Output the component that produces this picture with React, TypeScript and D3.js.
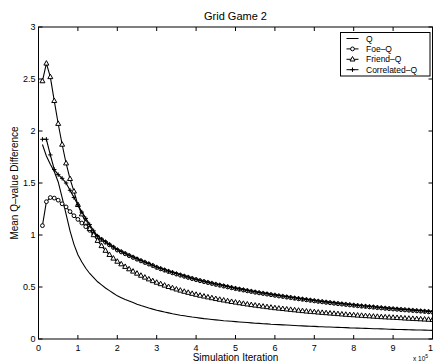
import React from "react";
import * as d3 from "d3";

// simulation iterations, in units of 10^5
const iterations = d3.range(1, 101).map((i) => i / 10);

const qValues = [
  1.87, 1.76, 1.68, 1.61, 1.51, 1.36, 1.2, 1.04, 0.91, 0.81,
  0.74, 0.68, 0.63, 0.59, 0.55, 0.52, 0.49, 0.465, 0.44, 0.415,
  0.397, 0.38, 0.366, 0.352, 0.335, 0.322, 0.31, 0.298, 0.287, 0.277,
  0.268, 0.259, 0.251, 0.243, 0.236, 0.229, 0.223, 0.217, 0.211, 0.206,
  0.201, 0.196, 0.192, 0.188, 0.184, 0.18, 0.176, 0.173, 0.17, 0.167,
  0.164, 0.161, 0.158, 0.155, 0.152, 0.15, 0.147, 0.145, 0.142, 0.14,
  0.138, 0.136, 0.134, 0.132, 0.13, 0.128, 0.126, 0.124, 0.122, 0.121,
  0.119, 0.118, 0.116, 0.115, 0.113, 0.112, 0.11, 0.109, 0.107, 0.106,
  0.105, 0.103, 0.102, 0.101, 0.099, 0.098, 0.097, 0.096, 0.094, 0.093,
  0.092, 0.091, 0.09, 0.089, 0.088, 0.087, 0.086, 0.085, 0.084, 0.083,
];

const foeValues = [
  1.09, 1.32, 1.36, 1.355, 1.335, 1.3, 1.27, 1.225, 1.185, 1.15,
  1.115, 1.08, 1.045, 1.01, 0.98, 0.955, 0.93, 0.905, 0.88, 0.855,
  0.837, 0.819, 0.801, 0.784, 0.767, 0.751, 0.735, 0.72, 0.705, 0.687,
  0.674, 0.661, 0.648, 0.636, 0.624, 0.613, 0.602, 0.591, 0.58, 0.57,
  0.56, 0.551, 0.542, 0.533, 0.524, 0.516, 0.508, 0.5, 0.492, 0.484,
  0.477, 0.47, 0.463, 0.456, 0.449, 0.443, 0.437, 0.431, 0.425, 0.419,
  0.413, 0.408, 0.402, 0.397, 0.391, 0.386, 0.381, 0.376, 0.371, 0.366,
  0.361, 0.357, 0.352, 0.348, 0.343, 0.339, 0.335, 0.331, 0.327, 0.323,
  0.319, 0.315, 0.312, 0.308, 0.305, 0.301, 0.298, 0.294, 0.291, 0.288,
  0.285, 0.282, 0.279, 0.276, 0.273, 0.27, 0.267, 0.264, 0.261, 0.258,
];

const friendValues = [
  2.48, 2.65, 2.52, 2.29, 2.07, 1.87, 1.69, 1.54, 1.42, 1.29,
  1.2, 1.12, 1.06, 1.0, 0.945, 0.895, 0.85, 0.81, 0.775, 0.745,
  0.72, 0.695, 0.672, 0.65, 0.63, 0.61, 0.592, 0.575, 0.558, 0.543,
  0.529, 0.515, 0.502, 0.49, 0.478, 0.467, 0.456, 0.446, 0.436, 0.427,
  0.418, 0.41, 0.402, 0.394, 0.386, 0.379, 0.372, 0.365, 0.358, 0.352,
  0.346, 0.34, 0.334, 0.328, 0.323, 0.318, 0.313, 0.308, 0.303, 0.298,
  0.294, 0.29, 0.286, 0.282, 0.278, 0.274, 0.27, 0.266, 0.263, 0.26,
  0.256, 0.253, 0.25, 0.247, 0.244, 0.241, 0.238, 0.235, 0.232, 0.23,
  0.227, 0.225, 0.222, 0.22, 0.217, 0.215, 0.212, 0.21, 0.208, 0.206,
  0.204, 0.202, 0.199, 0.197, 0.195, 0.193, 0.191, 0.189, 0.187, 0.185,
];

const correlatedValues = [
  1.92, 1.92, 1.77, 1.63, 1.58, 1.545, 1.5, 1.43, 1.36, 1.29,
  1.22, 1.16, 1.1, 1.04, 0.99, 0.96, 0.935, 0.91, 0.885, 0.86,
  0.842, 0.824, 0.806, 0.789, 0.772, 0.756, 0.74, 0.725, 0.71, 0.692,
  0.679, 0.666, 0.653, 0.641, 0.629, 0.618, 0.607, 0.596, 0.585, 0.575,
  0.565, 0.556, 0.547, 0.538, 0.529, 0.521, 0.513, 0.505, 0.497, 0.489,
  0.482, 0.475, 0.468, 0.461, 0.454, 0.448, 0.442, 0.436, 0.43, 0.424,
  0.418, 0.413, 0.407, 0.402, 0.396, 0.391, 0.386, 0.381, 0.376, 0.371,
  0.366, 0.362, 0.357, 0.353, 0.348, 0.344, 0.34, 0.336, 0.332, 0.328,
  0.324, 0.32, 0.317, 0.313, 0.31, 0.306, 0.303, 0.299, 0.296, 0.293,
  0.29, 0.287, 0.284, 0.281, 0.278, 0.275, 0.272, 0.269, 0.266, 0.263,
];

const xTicks = [0, 1, 2, 3, 4, 5, 6, 7, 8, 9, 10];
const yTicks = [0, 0.5, 1, 1.5, 2, 2.5, 3];
const legendLabels = ["Q", "Foe\u2013Q", "Friend\u2013Q", "Correlated\u2013Q"];

const W = 433, H = 364;
const margin = { top: 27, right: 0.5, bottom: 25, left: 38.5 };
const font = "Liberation Sans, Arial, Helvetica, sans-serif";

type Marker = "none" | "circle" | "triangle" | "plus";

function drawMarker(kind: Marker, cx: number, cy: number, key: string | number) {
  if (kind === "circle")
    return <circle key={key} cx={cx} cy={cy} r={1.9} fill="white" stroke="black" strokeWidth={1} />;
  if (kind === "triangle")
    return (
      <path key={key} d={`M${cx},${cy - 2.8}L${cx + 2.5},${cy + 1.7}L${cx - 2.5},${cy + 1.7}Z`}
        fill="white" stroke="black" strokeWidth={1} />
    );
  if (kind === "plus")
    return (
      <path key={key} d={`M${cx - 2.2},${cy}H${cx + 2.2}M${cx},${cy - 2.2}V${cy + 2.2}`} stroke="black" strokeWidth={1} />
    );
  return null;
}

export default function App() {
  const innerW = W - margin.left - margin.right;
  const innerH = H - margin.top - margin.bottom;

  const x = d3.scaleLinear().domain([0, 10]).range([margin.left, margin.left + innerW]);
  const y = d3.scaleLinear().domain([0, 3]).range([margin.top + innerH, margin.top]);

  const series: { name: string; values: number[]; marker: Marker }[] = [
    { name: legendLabels[0], values: qValues, marker: "none" },
    { name: legendLabels[1], values: foeValues, marker: "circle" },
    { name: legendLabels[2], values: friendValues, marker: "triangle" },
    { name: legendLabels[3], values: correlatedValues, marker: "plus" },
  ];

  const line = d3.line<number>()
    .x((_, i) => x(iterations[i]))
    .y((d) => y(d));

  const x0 = x(0), x1 = x(10), y0 = y(0), y1 = y(3);
  const tick = 4;

  // legend box
  const lg = { x: 340.5, y: 32.5, w: 89.5, h: 43.5 };

  return (
    <svg width={W} height={H} style={{ position: "absolute", left: 0, top: 0, background: "white" }}
      fontFamily={font}>
      <defs>
        <clipPath id="plot">
          <rect x={x0} y={y1} width={x1 - x0} height={y0 - y1} />
        </clipPath>
      </defs>
      <rect width={W} height={H} fill="white" />

      <text x={(x0 + x1) / 2} y={20} textAnchor="middle" fontSize={11}>Grid Game 2</text>

      {/* series */}
      <g clipPath="url(#plot)">
        {series.map((s) => (
          <g key={s.name}>
            <path d={line(s.values) ?? ""} fill="none" stroke="black" strokeWidth={1.1} />
            {s.marker !== "none" &&
              s.values.map((v, i) => drawMarker(s.marker, x(iterations[i]), y(v), i))}
          </g>
        ))}
      </g>

      {/* axes box */}
      <rect x={x0} y={y1} width={x1 - x0} height={y0 - y1} fill="none" stroke="black" strokeWidth={1} />

      {xTicks.map((t) => (
        <g key={"x" + t}>
          <line x1={x(t)} x2={x(t)} y1={y0} y2={y0 - tick} stroke="black" />
          <line x1={x(t)} x2={x(t)} y1={y1} y2={y1 + tick} stroke="black" />
          <text x={t === 10 ? x(t) - 2 : x(t)} y={351} textAnchor="middle" fontSize={9}>{t === 10 ? "1" : t}</text>
        </g>
      ))}
      {yTicks.map((t) => (
        <g key={"y" + t}>
          <line x1={x0} x2={x0 + tick} y1={y(t)} y2={y(t)} stroke="black" />
          <line x1={x1} x2={x1 - tick} y1={y(t)} y2={y(t)} stroke="black" />
          <text x={x0 - 3} y={y(t) + 3} textAnchor="end" fontSize={9}>{t}</text>
        </g>
      ))}

      <text x={(x0 + x1) / 2} y={361} textAnchor="middle" fontSize={10}>Simulation Iteration</text>
      <text x={413} y={361} fontSize={6.5}>x 10<tspan dy={-3} fontSize={5}>5</tspan></text>
      <text transform={`translate(18,${(y0 + y1) / 2}) rotate(-90)`} textAnchor="middle" fontSize={10}>
        Mean Q{"\u2013"}value Difference
      </text>

      {/* legend */}
      <g>
        <rect x={lg.x} y={lg.y} width={lg.w} height={lg.h} fill="white" stroke="black" strokeWidth={1} />
        {series.map((s, i) => {
          const cy = 38.5 + i * 10.4;
          return (
            <g key={"lg" + s.name}>
              <line x1={346.5} x2={358.5} y1={cy} y2={cy} stroke="black" />
              {drawMarker(s.marker, 352.5, cy, "m")}
              <text x={366} y={cy + 3} fontSize={8.5}>{s.name}</text>
            </g>
          );
        })}
      </g>
    </svg>
  );
}
